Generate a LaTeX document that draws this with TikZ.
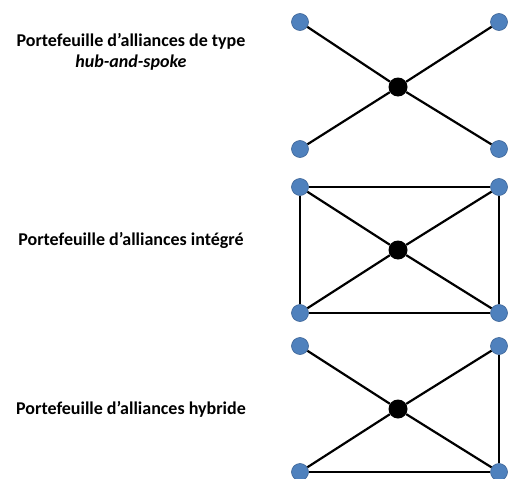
\documentclass[tikz,border=0pt]{standalone}
\usepackage{fontspec}
\setmainfont{Carlito}
\usetikzlibrary{positioning}
\definecolor{nodeblue}{RGB}{79,129,189}
\definecolor{nodeedge}{RGB}{60,100,150}
\tikzstyle{member} = [circle, minimum size=17pt, inner sep=0pt, draw=nodeedge, line width=0.6pt, fill=nodeblue]
\tikzstyle{hub} = [circle, minimum size=19pt, inner sep=0pt, fill=black]
\tikzstyle{tie} = [line width=2.2pt, black]
\tikzstyle{caption} = [font=\fontsize{18}{21}\selectfont\bfseries, align=center]

\begin{document}
\begin{tikzpicture}[x=1pt, y=-1pt]
		\useasboundingbox (0,0) rectangle (512,479);
		% hub-and-spoke
		\node (capA) [caption] at (131,52) {Portefeuille d'alliances de type\\ \textit{hub-and-spoke}};
		\node (a1) [member] at (300,22) {};
		\node (a2) [member] at (499,22) {};
		\node (a3) [member] at (300,149) {};
		\node (a4) [member] at (499,149) {};
		\node (a0) [hub] at (398,87) {};
		\draw [tie] (a1) -- (a0);
		\draw [tie] (a2) -- (a0);
		\draw [tie] (a3) -- (a0);
		\draw [tie] (a4) -- (a0);
		% integre
		\node (capB) [caption] at (131,240) {Portefeuille d'alliances intégré};
		\node (b1) [member] at (300,187) {};
		\node (b2) [member] at (499,187) {};
		\node (b3) [member] at (300,313) {};
		\node (b4) [member] at (499,313) {};
		\node (b0) [hub] at (398,250) {};
		\draw [tie] (b1) -- (b0);
		\draw [tie] (b2) -- (b0);
		\draw [tie] (b3) -- (b0);
		\draw [tie] (b4) -- (b0);
		\draw [tie] (b1) -- (b2);
		\draw [tie] (b2) -- (b4);
		\draw [tie] (b4) -- (b3);
		\draw [tie] (b3) -- (b1);
		% hybride
		\node (capC) [caption] at (131,409) {Portefeuille d'alliances hybride};
		\node (c1) [member] at (300,346) {};
		\node (c2) [member] at (499,346) {};
		\node (c3) [member] at (300,472) {};
		\node (c4) [member] at (499,472) {};
		\node (c0) [hub] at (398,409) {};
		\draw [tie] (c1) -- (c0);
		\draw [tie] (c2) -- (c0);
		\draw [tie] (c3) -- (c0);
		\draw [tie] (c4) -- (c0);
		\draw [tie] (c2) -- (c4);
		\draw [tie] (c4) -- (c3);
	\end{tikzpicture}
\end{document}
